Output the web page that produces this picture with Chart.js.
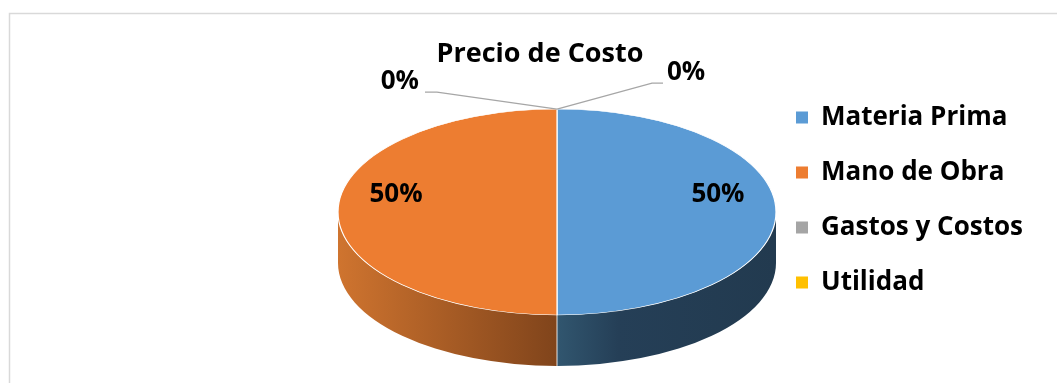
<!DOCTYPE html>
<html>
<head>
<meta charset="utf-8">
<script src="https://cdn.jsdelivr.net/npm/chart.js@4.4.1/dist/chart.umd.min.js"></script>
<style>
  html, body { margin: 0; padding: 0; background: #fff; }
  canvas { display: block; }
</style>
</head>
<body>
<canvas id="grafico" width="1057" height="383"></canvas>
<script>
const titulo = "Precio de Costo"
const categorias = ["Materia Prima", "Mano de Obra", "Gastos y Costos", "Utilidad"]
const valores = [50, 50, 0, 0]

const colores = ["#5B9BD5", "#ED7D31", "#A5A5A5", "#FFC000"]
// degradado del costado de cada porcion (posicion 0..1 de izquierda a derecha)
const ladoGradiente = [
    [[0.5, "#31566F"], [0.64, "#253F57"], [1, "#223A4F"]],
    [[0, "#CF742F"], [0.5, "#80441B"]],
    [[0, "#7A7A7A"], [1, "#5E5E5E"]],
    [[0, "#C09000"], [1, "#9A7300"]]
]
// guias de las etiquetas de porciones en cero
const guias = [
    {dx: -120, dy: -17, run: -12},
    {dx: 95, dy: -26, run: 11}
]

const INCLINACION = 0.47
const GROSOR = 51
const fuente = '"Open Sans", "DejaVu Sans", sans-serif'
const tamLeyenda = 26
const sepLeyenda = 29
const cajaLeyenda = 12
const bordeLeyenda = 767   // borde izquierdo de la leyenda

Chart.defaults.font.family = fuente

// ancho que ocupara la leyenda, para dejar el pastel centrado a su izquierda
let medidor = document.createElement('canvas').getContext('2d')
medidor.font = 'bold ' + tamLeyenda + 'px ' + fuente
let anchoTexto = Math.max(...categorias.map(c => medidor.measureText(c).width))
let anchoLeyenda = sepLeyenda + cajaLeyenda + tamLeyenda / 2 + anchoTexto + 10

// tramos del borde que quedan hacia el frente (seno positivo)
function tramosVisibles(a0, a1) {
    let tramos = []
    for (let k = -1; k <= 1; k++) {
        let ini = Math.max(a0, k * 2 * Math.PI)
        let fin = Math.min(a1, k * 2 * Math.PI + Math.PI)
        if (fin - ini > 0.0001) tramos.push([ini, fin])
    }
    return tramos
}

const marco = {
    id: 'marco',
    beforeDraw(chart) {
        let ctx = chart.ctx
        ctx.save()
        ctx.strokeStyle = '#d9d9d9'
        ctx.lineWidth = 1.5
        ctx.beginPath()
        ctx.moveTo(9.5, chart.height)
        ctx.lineTo(9.5, 13.5)
        ctx.lineTo(chart.width, 13.5)
        ctx.stroke()
        ctx.restore()
    },
    afterDraw(chart) {
        let ctx = chart.ctx
        ctx.save()
        ctx.font = 'bold 27px ' + fuente
        ctx.fillStyle = '#000'
        ctx.textAlign = 'center'
        ctx.textBaseline = 'middle'
        ctx.fillText(titulo, 540, 54)
        ctx.restore()
    }
}

const pastel3D = {
    id: 'pastel3D',
    beforeDatasetsDraw(chart) {
        let ctx = chart.ctx
        let arcos = chart.getDatasetMeta(0).data
        let cx = arcos[0].x, cy = arcos[0].y
        let rx = arcos[0].outerRadius
        let ry = rx * INCLINACION

        arcos.forEach((arco, i) => {
            tramosVisibles(arco.startAngle, arco.endAngle).forEach(([a0, a1]) => {
                let g = ctx.createLinearGradient(cx - rx, 0, cx + rx, 0)
                ladoGradiente[i].forEach(([p, c]) => g.addColorStop(p, c))
                ctx.beginPath()
                ctx.ellipse(cx, cy, rx, ry, 0, a0, a1)
                ctx.ellipse(cx, cy + GROSOR, rx, ry, 0, a1, a0, true)
                ctx.closePath()
                ctx.fillStyle = g
                ctx.fill()
            })
        })

        // aristas entre porciones en el costado
        ctx.save()
        ctx.strokeStyle = 'rgba(255,255,255,0.85)'
        ctx.lineWidth = 1
        arcos.forEach(arco => {
            let a = arco.startAngle
            if (Math.sin(a) > 0.01 && arco.endAngle > arco.startAngle) {
                let x = cx + Math.cos(a) * rx
                let y = cy + Math.sin(a) * ry
                ctx.beginPath()
                ctx.moveTo(x, y)
                ctx.lineTo(x, y + GROSOR)
                ctx.stroke()
            }
        })
        ctx.restore()

        // la cara superior se aplasta verticalmente
        ctx.save()
        ctx.translate(0, cy)
        ctx.scale(1, INCLINACION)
        ctx.translate(0, -cy)
    },
    afterDatasetsDraw(chart) {
        let ctx = chart.ctx
        ctx.restore()

        let arcos = chart.getDatasetMeta(0).data
        let cx = arcos[0].x, cy = arcos[0].y
        let rx = arcos[0].outerRadius
        let ry = rx * INCLINACION
        let total = valores.reduce((a, b) => a + b, 0)
        let nCero = 0

        ctx.save()
        ctx.font = 'bold 26px ' + fuente
        ctx.fillStyle = '#000'
        ctx.textBaseline = 'middle'
        arcos.forEach((arco, i) => {
            let texto = Math.round(valores[i] / total * 100) + '%'
            let medio = (arco.startAngle + arco.endAngle) / 2
            if (valores[i] > 0) {
                ctx.textAlign = 'center'
                ctx.fillText(texto, cx + Math.cos(medio) * rx * 0.735, cy + Math.sin(medio) * ry * 0.735 - 17)
            } else {
                let gu = guias[nCero++]
                let ax = cx + Math.cos(medio) * rx
                let ay = cy + Math.sin(medio) * ry
                let ex = ax + gu.dx, ey = ay + gu.dy
                ctx.strokeStyle = '#a6a6a6'
                ctx.lineWidth = 1.3
                ctx.beginPath()
                ctx.moveTo(ax, ay)
                ctx.lineTo(ex, ey)
                ctx.lineTo(ex + gu.run, ey)
                ctx.stroke()
                ctx.textAlign = gu.run < 0 ? 'right' : 'left'
                ctx.fillText(texto, ex + gu.run + (gu.run < 0 ? -6 : 4), ey - 10)
            }
        })
        ctx.restore()
    }
}

const etiquetasBase = Chart.controllers.doughnut.overrides.plugins.legend.labels.generateLabels

let miGrafico = new Chart(document.getElementById("grafico"), {
    type: 'pie',
    data: {
        labels: categorias,
        datasets: [{
            data: valores,
            backgroundColor: colores,
            borderColor: '#ffffff',
            borderWidth: 1.2
        }]
    },
    options: {
        responsive: false,
        animation: false,
        events: [],
        radius: 219,
        layout: {
            padding: {left: 347, right: 1057 - bordeLeyenda - anchoLeyenda, top: 75.5, bottom: 34.5}
        },
        plugins: {
            tooltip: {enabled: false},
            legend: {
                position: 'right',
                align: 'start',
                labels: {
                    boxWidth: cajaLeyenda,
                    boxHeight: cajaLeyenda,
                    padding: sepLeyenda,
                    color: '#000',
                    font: {size: tamLeyenda, weight: 'bold'},
                    generateLabels: chart => etiquetasBase(chart).map(l => ({...l, lineWidth: 0}))
                }
            }
        }
    },
    plugins: [marco, pastel3D]
})
</script>
</body>
</html>
